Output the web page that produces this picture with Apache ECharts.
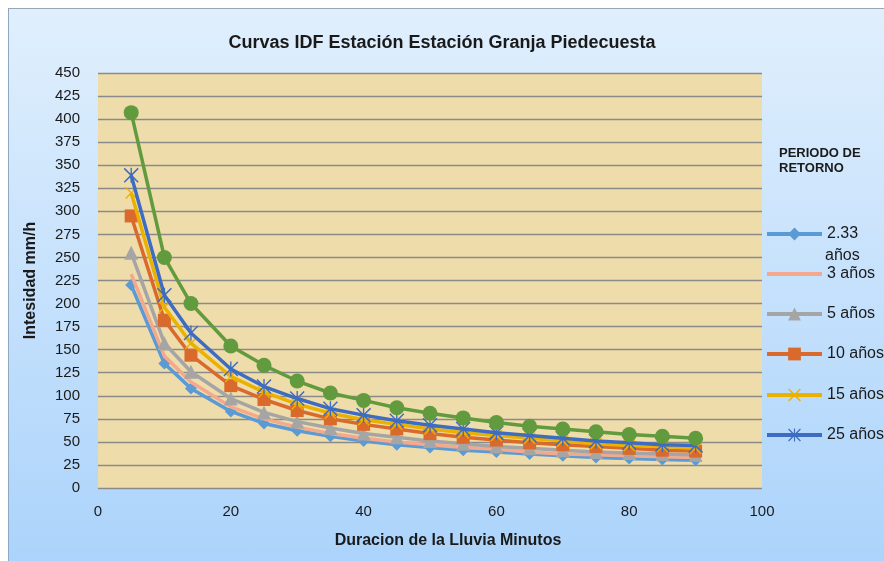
<!DOCTYPE html>
<html>
<head>
<meta charset="utf-8">
<script src="https://cdn.jsdelivr.net/npm/echarts@6/dist/echarts.min.js"></script>
<style>
  html, body { margin: 0; padding: 0; background: #fff; }
  #wrap { position: relative; width: 884px; height: 561px; overflow: hidden; }
  #back {
    position: absolute; left: 8px; top: 8px; width: 900px; height: 600px;
    border-left: 1px solid #8fa8c2; border-top: 1px solid #9aa6b2;
    background: linear-gradient(#e0effd, #a7d1fb);
  }
  #main { position: absolute; left: 0; top: 0; width: 884px; height: 561px; }
</style>
</head>
<body>
<div id="wrap">
  <div id="back"></div>
  <div id="main"></div>
</div>
<script>
// duracion de la lluvia (min)
const duracion = [5, 10, 14, 20, 25, 30, 35, 40, 45, 50, 55, 60, 65, 70, 75, 80, 85, 90]

// intensidad (mm/h) por periodo de retorno
const tr2_33 = [220, 135, 108, 83, 70, 62, 56, 51, 47, 44, 41, 39, 37, 35, 33, 32, 31, 30]
const tr3 = [232, 143, 115, 88, 75, 66, 59, 54, 50, 47, 44, 42, 39, 37, 36, 35, 34, 33]
const tr5 = [255, 157, 126, 97, 82, 72, 65, 59, 55, 51, 48, 45, 43, 41, 39, 38, 37, 36]
const tr10 = [295, 182, 144, 111, 96, 84, 75, 69, 64, 59, 55, 52, 49, 47, 45, 43, 41, 40]
const tr15 = [320, 196, 157, 121, 104, 91, 81, 74, 69, 64, 60, 57, 54, 51, 48, 46, 45, 43]
const tr25 = [339, 209, 168, 129, 110, 97, 86, 79, 73, 68, 64, 60, 57, 54, 51, 49, 47, 46]
const tr50 = [407, 250, 200, 154, 133, 116, 103, 95, 87, 81, 76, 71, 67, 64, 61, 58, 56, 54]

const nombres = ['2.33 años', '3 años', '5 años', '10 años', '15 años', '25 años', '50 años']
const valores = [tr2_33, tr3, tr5, tr10, tr15, tr25, tr50]

const fuente = '"Liberation Sans", Arial, sans-serif'

// marcadores tipo Excel
const markX = 'path://M0,1.6 L1.6,0 L20,18.4 L18.4,20 Z M18.4,0 L20,1.6 L1.6,20 L0,18.4 Z'
const markStar = 'path://M9.1,0 L10.9,0 L10.9,20 L9.1,20 Z M0,1.4 L1.4,0 L20,18.6 L18.6,20 Z M18.6,0 L20,1.4 L1.4,20 L0,18.6 Z'

const estilos = [
  { color: '#5b9bd5', symbol: 'diamond', size: 12 },
  { color: '#f4a98c', symbol: 'none', size: 0 },
  { color: '#a5a5a5', symbol: 'triangle', size: 14 },
  { color: '#da6a2b', symbol: 'rect', size: 13 },
  { color: '#ebb100', symbol: markX, size: 12 },
  { color: '#3e6cc0', symbol: markStar, size: 15 },
  { color: '#619b3d', symbol: 'circle', size: 15 }
]

// centro vertical de cada entrada de la leyenda
const leyendaY = [232, 272, 312, 352, 393, 433]

const chart = echarts.init(document.getElementById('main'))

const series = nombres.map((nombre, i) => ({
  name: nombre,
  type: 'line',
  z: 2 + i,
  data: duracion.map((d, k) => [d, valores[i][k]]),
  symbol: estilos[i].symbol,
  symbolSize: estilos[i].size,
  symbolKeepAspect: true,
  showSymbol: estilos[i].symbol !== 'none',
  lineStyle: { width: 3.5, color: estilos[i].color },
  itemStyle: { color: estilos[i].color },
  animation: false
}))

const legends = leyendaY.map((y, i) => ({
  data: [estilos[i].symbol === 'none'
    ? { name: nombres[i], itemStyle: { opacity: 0 } }
    : nombres[i]],
  left: 765,
  top: y - 6,
  padding: 0,
  itemWidth: 55,
  itemHeight: 16,
  itemGap: 0,
  selectedMode: false,
  lineStyle: { width: 4 },
  formatter: n => n === '2.33 años' ? '2.33' : n,
  textStyle: { fontSize: 16, color: '#1a1a1a', fontFamily: fuente }
}))

chart.setOption({
  backgroundColor: 'transparent',
  title: [{
    text: 'Curvas IDF Estación Estación Granja Piedecuesta',
    left: 'center',
    top: 34,
    padding: [0, 0, 0, 12],
    textStyle: { fontSize: 18, fontWeight: 'bold', color: '#1a1a1a', fontFamily: fuente }
  }, {
    text: 'PERIODO DE\nRETORNO',
    left: 779,
    top: 146,
    padding: 0,
    textStyle: { fontSize: 13, fontWeight: 'bold', color: '#1a1a1a', lineHeight: 15, fontFamily: fuente }
  }],
  legend: legends,
  graphic: [{
    type: 'text',
    left: 825,
    top: 248,
    style: { text: 'años', fontSize: 16, fill: '#1a1a1a', fontFamily: fuente }
  }],
  grid: {
    left: 98,
    right: 122,
    top: 73,
    bottom: 73,
    show: true,
    backgroundColor: '#eedcab',
    borderWidth: 0
  },
  xAxis: {
    type: 'value',
    min: 0,
    max: 100,
    interval: 20,
    name: 'Duracion de la Lluvia Minutos',
    nameLocation: 'middle',
    nameGap: 45,
    nameTextStyle: { fontSize: 16, fontWeight: 'bold', color: '#1a1a1a', fontFamily: fuente, padding: [0, 0, 0, 36] },
    axisLine: { show: false },
    axisTick: { show: false },
    splitLine: { show: false },
    axisLabel: { fontSize: 15, color: '#1a1a1a', margin: 16, fontFamily: fuente }
  },
  yAxis: {
    type: 'value',
    min: 0,
    max: 450,
    interval: 25,
    name: 'Intesidad mm/h',
    nameLocation: 'middle',
    nameGap: 59,
    nameRotate: 90,
    nameTextStyle: { fontSize: 16, fontWeight: 'bold', color: '#1a1a1a', fontFamily: fuente },
    axisLine: { show: false },
    axisTick: { show: false },
    splitLine: { lineStyle: { color: '#8a8a8a', width: 1.3 } },
    axisLabel: { fontSize: 15, color: '#1a1a1a', margin: 18, fontFamily: fuente }
  },
  series: series
})
</script>
</body>
</html>
